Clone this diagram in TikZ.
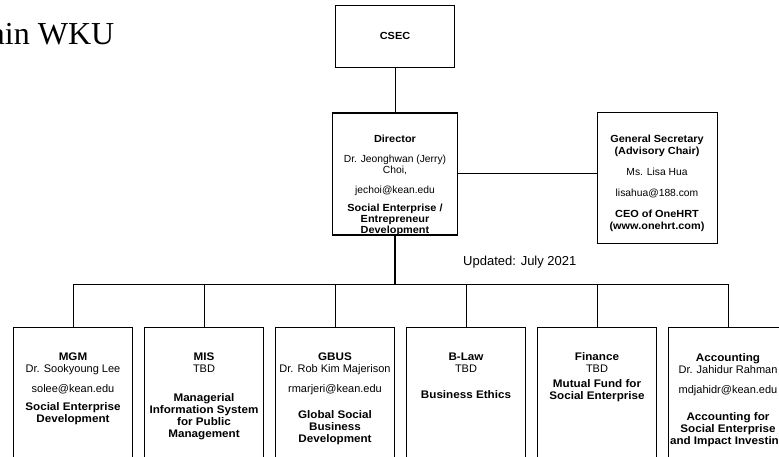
\documentclass[tikz,border=0pt]{standalone}
\usepackage{fontspec}
\setmainfont{Liberation Sans}[BoldFeatures={FakeStretch=1.06}]
\newfontfamily\titlefont{Liberation Serif}
\usetikzlibrary{positioning}

\begin{document}
\begin{tikzpicture}[x=1pt,y=-1pt,
  unitbox/.style={draw,line width=0.9pt,inner sep=0pt,anchor=north},
  boxtext/.style={align=center,inner sep=0pt,anchor=north,font=\fontsize{10.3}{12}\selectfont},
  depttext/.style={boxtext,font=\fontsize{11}{12}\selectfont},
  link/.style={line width=0.6pt}]
\useasboundingbox (0,0) rectangle (779,457);

\node[anchor=base west,inner sep=0pt,font=\titlefont\fontsize{32}{36}\selectfont] (title) at (-9.5,45) {ain WKU};

% top of the chart
\node[unitbox,minimum width=119pt,minimum height=62pt] (csec) at (395,5) {};
\node[boxtext,anchor=center] (csectxt) at (csec.center) {\textbf{CSEC}};
\node[unitbox,line width=1.6pt,minimum width=125pt,minimum height=122pt] (dir) at (395,112) {};
\node[boxtext,font=\fontsize{10.3}{11}\selectfont,below=23.2pt of dir.north] (dirtxt)
  {\textbf{Director}\\[9pt] Dr. Jeonghwan (Jerry)\\Choi,\\[9pt] jechoi@kean.edu\\[7pt]
   \textbf{Social Enterprise /}\\\textbf{Entrepreneur}\\\textbf{Development}};
\node[unitbox,minimum width=120pt,minimum height=131pt] (gs) at (657,112) {};
\node[boxtext,below=23.2pt of gs.north] (gstxt)
  {\textbf{General Secretary}\\\textbf{(Advisory Chair)}\\[9pt] Ms. Lisa Hua\\[9pt] lisahua@188.com\\[9pt]
   \textbf{CEO of OneHRT}\\\textbf{(www.onehrt.com)}};

\node[anchor=west,inner sep=0pt,font=\fontsize{13}{15}\selectfont] (upd) at (463,262) {Updated: July 2021};

% departments
\foreach \u [count=\i from 0] in {mgm,mis,gbus,blaw,fin,acct}
  \node[unitbox,minimum width=119pt,minimum height=140pt] (\u) at (73+131*\i,327) {};

\node[depttext,below=26pt of mgm.north] (mgmtxt)
  {\textbf{MGM}\\Dr. Sookyoung Lee\\[8pt]solee@kean.edu\\[6pt]\textbf{Social Enterprise}\\\textbf{Development}};
\node[depttext,below=26pt of mis.north] (mistxt)
  {\textbf{MIS}\\TBD\\[17pt]\textbf{Managerial}\\\textbf{Information System}\\\textbf{for Public}\\\textbf{Management}};
\node[depttext,below=26pt of gbus.north] (gbustxt)
  {\textbf{GBUS}\\Dr. Rob Kim Majerison\\[8pt]rmarjeri@kean.edu\\[14pt]\textbf{Global Social}\\\textbf{Business}\\\textbf{Development}};
\node[depttext,below=26pt of blaw.north] (blawtxt)
  {\textbf{B-Law}\\TBD\\[14pt]\textbf{Business Ethics}};
\node[depttext,below=25pt of fin.north] (fintxt)
  {\textbf{Finance}\\TBD\\[3pt]\textbf{Mutual Fund for}\\\textbf{Social Enterprise}};
\node[depttext,below=26pt of acct.north] (accttxt)
  {\textbf{Accounting}\\Dr. Jahidur Rahman\\[8pt]mdjahidr@kean.edu\\[15pt]\textbf{Accounting for}\\\textbf{Social Enterprise}\\\textbf{and Impact Investing}};

% connectors
\coordinate (bus) at (395,284);
\draw[link] (csec.south) -- (dir.north);
\draw[link] (dir.east) -- (dir.east -| gs.west);
\draw[line width=1.6pt] (dir.south) -- (dir.south |- bus);
\draw[link] (mgm.north |- bus) -- (acct.north |- bus);
\foreach \u in {mgm,mis,gbus,blaw,fin,acct}
  \draw[link] (\u.north |- bus) -- (\u.north);
\end{tikzpicture}
\end{document}
